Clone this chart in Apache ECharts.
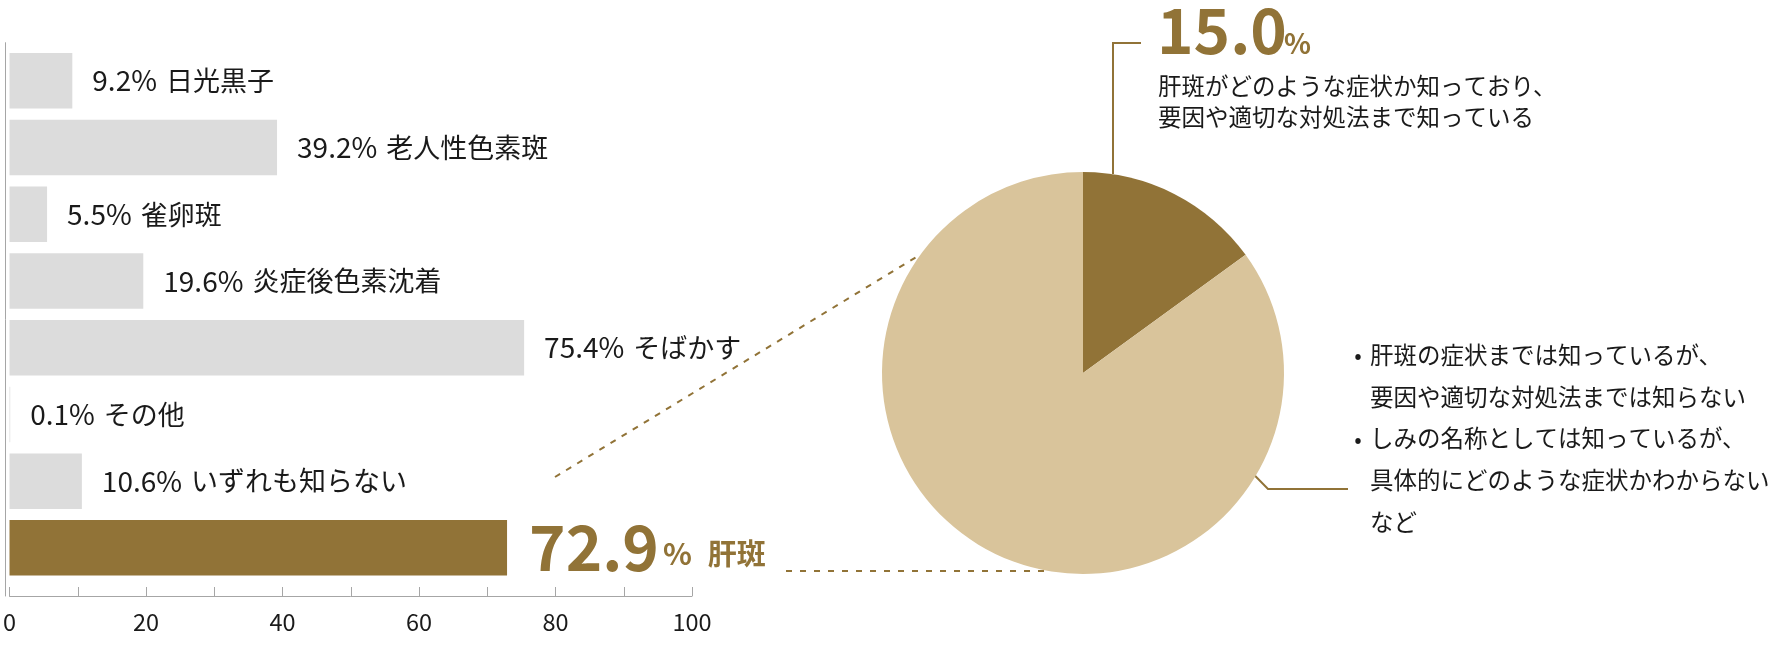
<!DOCTYPE html>
<html>
<head>
<meta charset="utf-8">
<script src="https://cdn.jsdelivr.net/npm/echarts@6/dist/echarts.min.js"></script>
<style>
html,body{margin:0;padding:0;background:#fff;}
#c{width:1778px;height:657px;}
</style>
</head>
<body>
<div id="c"></div>
<script>
// ---- data ----
const categories = ['日光黒子','老人性色素斑','雀卵斑','炎症後色素沈着','そばかす','その他','いずれも知らない','肝斑'];
const values = [9.2, 39.2, 5.5, 19.6, 75.4, 0.1, 10.6, 72.9];
const highlightName = '肝斑';
const xTickLabels = [0, 20, 40, 60, 80, 100];
const pieNames = ['症状・要因・対処法まで知っている', 'それ以外'];
const pieValues = [15.0, 85.0];
const pieNoteTop = ['肝斑がどのような症状か知っており、', '要因や適切な対処法まで知っている'];
const pieNoteRight = ['肝斑の症状までは知っているが、', '要因や適切な対処法までは知らない', 'しみの名称としては知っているが、', '具体的にどのような症状かわからない', 'など'];
const bulletLines = [0, 2];

// ---- style ----
const GOLD = '#917337';
const LIGHT = '#d9c49b';
const GREY = '#dcdcdc';
const AXIS = '#a6a6a6';
const TXT = '#1a1a1a';
const FF = "'Noto Sans CJK JP', 'Noto Sans', sans-serif";

const chart = echarts.init(document.getElementById('c'), null, {renderer: 'canvas'});

const barData = values.map((v, i) => ({
  value: v,
  itemStyle: {color: categories[i] === highlightName ? GOLD : GREY},
  label: categories[i] === highlightName ? {
    distance: 22,
    formatter: p => '{big|' + p.value.toFixed(1) + '}{pct|%}{hn|' + p.name + '}'
  } : {}
}));

const noteRightText = pieNoteRight.join('\n');

chart.setOption({
  animation: false,
  backgroundColor: '#fff',
  textStyle: {fontFamily: FF},
  grid: [
    {left: 5, width: 687, top: 47.5, height: 533.7, containLabel: false},
    {left: 5, width: 687, top: 42.7, height: 553.3, containLabel: false}
  ],
  xAxis: [
    {
      type: 'value', gridIndex: 0, min: 0, max: 100, interval: 10, offset: 14.8,
      axisLine: {show: true, lineStyle: {color: AXIS, width: 1}},
      axisTick: {show: true, inside: true, length: 9, lineStyle: {color: AXIS}},
      splitLine: {show: false},
      axisLabel: {
        color: TXT, fontSize: 23.5, fontFamily: FF, margin: 14,
        formatter: v => xTickLabels.indexOf(v) >= 0 ? String(v) : ''
      }
    },
    {type: 'value', gridIndex: 1, min: 0, max: 100, show: false}
  ],
  yAxis: [
    {
      type: 'category', gridIndex: 0, data: categories, inverse: true,
      axisLine: {show: false}, axisTick: {show: false}, axisLabel: {show: false},
      splitLine: {show: false}
    },
    {
      type: 'value', gridIndex: 1, min: 0, max: 1,
      axisLine: {show: true, lineStyle: {color: AXIS, width: 1}},
      axisTick: {show: false}, axisLabel: {show: false}, splitLine: {show: false}
    }
  ],
  series: [
    {
      type: 'bar', xAxisIndex: 0, yAxisIndex: 0,
      data: barData,
      barCategoryGap: '16.8%',
      silent: true,
      label: {
        show: true, position: 'right', distance: 20,
        fontFamily: FF,
        formatter: p => '{v|' + p.value.toFixed(1) + '%}{n|' + p.name + '}',
        rich: {
          v: {fontSize: 28, color: TXT, fontFamily: FF},
          n: {fontSize: 27, color: TXT, fontFamily: FF, padding: [0, 0, 0, 9]},
          big: {fontSize: 62, fontWeight: 'bold', color: GOLD, fontFamily: FF, verticalAlign: 'bottom', lineHeight: 62},
          pct: {fontSize: 30, fontWeight: 'bold', color: GOLD, fontFamily: FF, verticalAlign: 'bottom', padding: [0, 0, 10, 4], lineHeight: 30},
          hn: {fontSize: 29, fontWeight: 'bold', color: GOLD, fontFamily: FF, verticalAlign: 'bottom', padding: [0, 0, 10, 16], lineHeight: 30}
        }
      }
    },
    {
      type: 'pie',
      center: [1083, 373],
      radius: 201,
      startAngle: 90,
      clockwise: true,
      silent: true,
      label: {show: false},
      labelLine: {show: false},
      data: pieNames.map((n, i) => ({name: n, value: pieValues[i], itemStyle: {color: i === 0 ? GOLD : LIGHT}}))
    }
  ],
  graphic: [
    // dotted connector lines
    {type: 'line', shape: {x1: 786, y1: 571, x2: 1045, y2: 571}, style: {stroke: GOLD, lineWidth: 2, lineDash: [6, 8]}, silent: true},
    {type: 'line', shape: {x1: 555, y1: 477, x2: 918, y2: 256}, style: {stroke: GOLD, lineWidth: 2, lineDash: [6, 7]}, silent: true},
    // leader for first slice
    {type: 'polyline', shape: {points: [[1113, 174], [1113, 43], [1141, 43]]}, style: {stroke: GOLD, lineWidth: 2, fill: null}, silent: true},
    // leader for second slice
    {type: 'polyline', shape: {points: [[1217, 437], [1268, 489], [1348, 489]]}, style: {stroke: GOLD, lineWidth: 2, fill: null}, silent: true},
    // 15.0%
    {type: 'text', x: 1157, y: 61, style: {text: pieValues[0].toFixed(1), font: 'bold 62px ' + FF, fill: GOLD, textAlign: 'left', textVerticalAlign: 'bottom'}, silent: true},
    {type: 'text', x: 1284, y: 57, style: {text: '%', font: 'bold 28px ' + FF, fill: GOLD, textAlign: 'left', textVerticalAlign: 'bottom'}, silent: true},
    {type: 'text', x: 1158, y: 70.25, style: {text: pieNoteTop.join('\n'), fontSize: 23.5, fontFamily: FF, fill: TXT, lineHeight: 31.5, textAlign: 'left', textVerticalAlign: 'top'}, silent: true},
    {type: 'text', x: 1370, y: 334.1, style: {text: noteRightText, fontSize: 23.5, fontFamily: FF, fill: TXT, lineHeight: 41.75, textAlign: 'left', textVerticalAlign: 'top'}, silent: true},
    ...bulletLines.map(li => ({type: 'text', x: 1358, y: 355 + li * 41.75, style: {text: '•', fontSize: 22, fontFamily: FF, fill: TXT, textAlign: 'center', textVerticalAlign: 'middle'}, silent: true}))
  ]
});
</script>
</body>
</html>
